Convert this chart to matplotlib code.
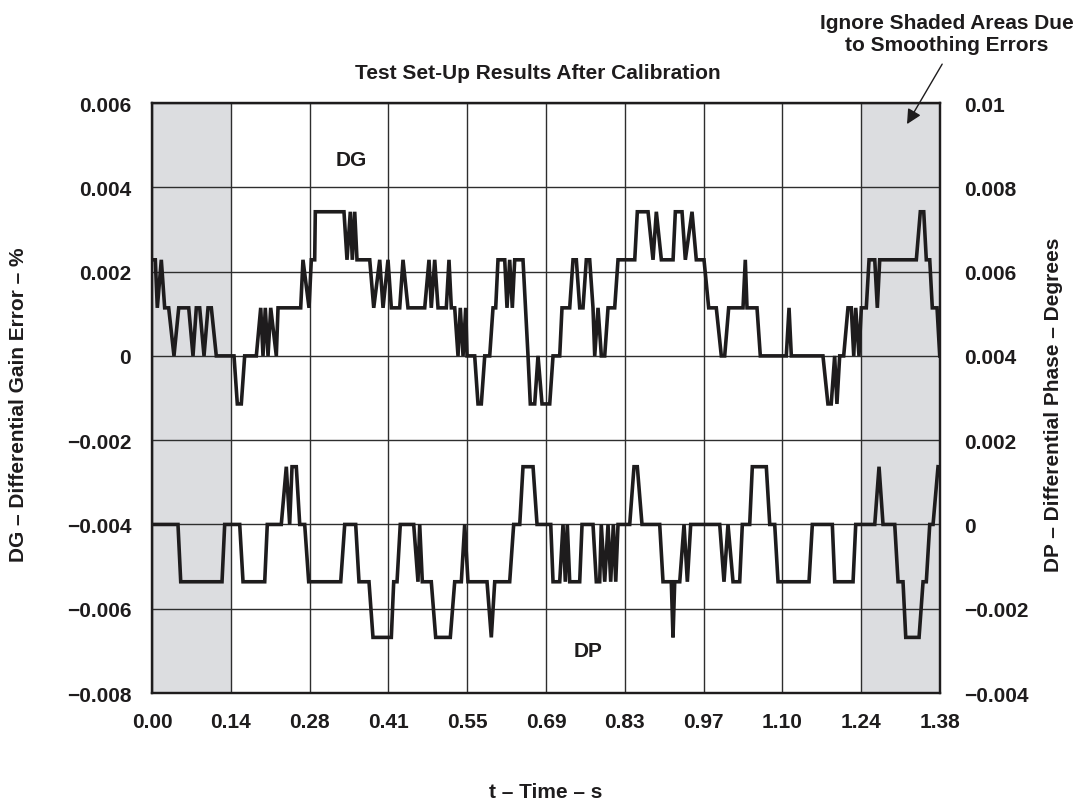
import matplotlib
matplotlib.use("Agg")
import matplotlib.pyplot as plt

plt.rcParams['font.family'] = ['Liberation Sans', 'DejaVu Sans']
plt.rcParams['font.weight'] = 'bold'

INK = '#1e1c1d'
FS = 15

# sample times (s) and differential gain (%)
dg_t = [0.000, 0.0058, 0.0093, 0.0163, 0.0222, 0.0292, 0.0385, 0.0468, 0.0643,
        0.0718, 0.0776, 0.0835, 0.0911, 0.0981, 0.1039, 0.1126, 0.1436, 0.1494,
        0.1564, 0.1623, 0.1827, 0.1904, 0.1944, 0.1984, 0.2032, 0.2079, 0.2177,
        0.2207, 0.2604, 0.2644, 0.2750, 0.2790, 0.2849, 0.2860, 0.3362, 0.3415,
        0.3473, 0.3508, 0.3550, 0.3590, 0.3813, 0.3883, 0.3988, 0.4046, 0.4133,
        0.4191, 0.4338, 0.4396, 0.4483, 0.4776, 0.4851, 0.4891, 0.4951, 0.5009,
        0.5154, 0.5201, 0.5242, 0.5301, 0.5359, 0.5399, 0.5447, 0.5494, 0.5517,
        0.5651, 0.5709, 0.5767, 0.5827, 0.5914, 0.5972, 0.6019, 0.6059, 0.6177,
        0.6217, 0.6264, 0.6310, 0.6352, 0.6497, 0.6585, 0.6625, 0.6702, 0.6760,
        0.6830, 0.6965, 0.7023, 0.7140, 0.7180, 0.7315, 0.7373, 0.7431, 0.7490,
        0.7548, 0.7606, 0.7665, 0.7723, 0.7753, 0.7811, 0.7869, 0.7928, 0.7986,
        0.8103, 0.8161, 0.8454, 0.8499, 0.8687, 0.8774, 0.8832, 0.8920, 0.9125,
        0.9165, 0.9282, 0.9340, 0.9457, 0.9532, 0.9667, 0.9749, 0.9882, 0.9970,
        1.0029, 1.0099, 1.0350, 1.0390, 1.0420, 1.0595, 1.0653, 1.1108, 1.1156,
        1.1196, 1.1750, 1.1837, 1.1895, 1.1955, 1.1995, 1.2043, 1.2113, 1.2188,
        1.2246, 1.2289, 1.2324, 1.2381, 1.2422, 1.2509, 1.2557, 1.2657, 1.2702,
        1.2744, 1.3385, 1.3455, 1.3515, 1.3560, 1.3620, 1.3665, 1.3748, 1.3795]
dg_val = [0.00228, 0.00228, 0.00114, 0.00228, 0.00114, 0.00114, 0.0, 0.00114, 0.00114,
          0.0, 0.00114, 0.00114, 0.0, 0.00114, 0.00114, 0.0, 0.0, -0.00114,
          -0.00114, 0.0, 0.0, 0.00114, 0.0, 0.00114, 0.0, 0.00114, 0.0,
          0.00114, 0.00114, 0.00228, 0.00114, 0.00228, 0.00228, 0.00342, 0.00342, 0.00228,
          0.00342, 0.00228, 0.00342, 0.00228, 0.00228, 0.00114, 0.00228, 0.00114, 0.00228,
          0.00114, 0.00114, 0.00228, 0.00114, 0.00114, 0.00228, 0.00114, 0.00228, 0.00114,
          0.00114, 0.00228, 0.00114, 0.00114, 0.0, 0.00114, 0.0, 0.00114, 0.0,
          0.0, -0.00114, -0.00114, 0.0, 0.0, 0.00114, 0.00114, 0.00228, 0.00228,
          0.00114, 0.00228, 0.00114, 0.00228, 0.00228, 0.0, -0.00114, -0.00114, 0.0,
          -0.00114, -0.00114, 0.0, 0.0, 0.00114, 0.00114, 0.00228, 0.00228, 0.00114,
          0.00114, 0.00228, 0.00228, 0.00114, 0.0, 0.00114, 0.0, 0.0, 0.00114,
          0.00114, 0.00228, 0.00228, 0.00342, 0.00342, 0.00228, 0.00342, 0.00228, 0.00228,
          0.00342, 0.00342, 0.00228, 0.00342, 0.00228, 0.00228, 0.00114, 0.00114, 0.0,
          0.0, 0.00114, 0.00114, 0.00228, 0.00114, 0.00114, 0.0, 0.0, 0.00114,
          0.0, 0.0, -0.00114, -0.00114, 0.0, -0.00114, 0.0, 0.0, 0.00114,
          0.00114, 0.0, 0.00114, 0.0, 0.00114, 0.00114, 0.00228, 0.00228, 0.00114,
          0.00228, 0.00228, 0.00342, 0.00342, 0.00228, 0.00228, 0.00114, 0.00114, 0.0]

# sample times (s) and differential phase (degrees)
dp_t = [0.000, 0.0455, 0.0503, 0.1226, 0.1273, 0.1536, 0.1594, 0.1974, 0.2019,
        0.2264, 0.2352, 0.2411, 0.2452, 0.2527, 0.2587, 0.2674, 0.2744, 0.3305,
        0.3375, 0.3567, 0.3625, 0.3800, 0.3870, 0.4191, 0.4233, 0.4291, 0.4348,
        0.4583, 0.4658, 0.4688, 0.4734, 0.4891, 0.4968, 0.5224, 0.5301, 0.5417,
        0.5476, 0.5534, 0.5867, 0.5942, 0.6002, 0.6264, 0.6334, 0.6440, 0.6497,
        0.6673, 0.6743, 0.6983, 0.7023, 0.7140, 0.7198, 0.7238, 0.7273, 0.7315,
        0.7490, 0.7531, 0.7723, 0.7781, 0.7840, 0.7868, 0.7928, 0.7986, 0.8033,
        0.8079, 0.8121, 0.8161, 0.8366, 0.8441, 0.8499, 0.8581, 0.8891, 0.8949,
        0.9094, 0.9124, 0.9154, 0.9242, 0.9317, 0.9375, 0.9434, 0.9942, 1.0017,
        1.0087, 1.0175, 1.0292, 1.0338, 1.0467, 1.0513, 1.0758, 1.0818, 1.0905,
        1.0963, 1.1506, 1.1564, 1.1914, 1.1956, 1.2277, 1.2324, 1.2657, 1.2732,
        1.2802, 1.3007, 1.3065, 1.3152, 1.3200, 1.3433, 1.3503, 1.3560, 1.3620,
        1.3678, 1.3765]
dp_val = [0.0, 0.0, -0.00136, -0.00136, 0.0, 0.0, -0.00136, -0.00136, 0.0,
          0.0, 0.00137, 0.0, 0.00137, 0.00137, 0.0, 0.0, -0.00136, -0.00136,
          0.0, 0.0, -0.00136, -0.00136, -0.00268, -0.00268, -0.00136, -0.00136, 0.0,
          0.0, -0.00136, 0.0, -0.00136, -0.00136, -0.00268, -0.00268, -0.00136, -0.00136,
          0.0, -0.00136, -0.00136, -0.00268, -0.00136, -0.00136, 0.0, 0.0, 0.00137,
          0.00137, 0.0, 0.0, -0.00136, -0.00136, 0.0, -0.00136, 0.0, -0.00136,
          -0.00136, 0.0, 0.0, -0.00136, -0.00136, 0.0, -0.00136, 0.0, -0.00136,
          0.0, -0.00136, 0.0, 0.0, 0.00137, 0.00137, 0.0, 0.0, -0.00136,
          -0.00136, -0.00268, -0.00136, -0.00136, 0.0, -0.00136, 0.0, 0.0, -0.00136,
          0.0, -0.00136, -0.00136, 0.0, 0.0, 0.00137, 0.00137, 0.0, 0.0,
          -0.00136, -0.00136, 0.0, 0.0, -0.00136, -0.00136, 0.0, 0.0, 0.00137,
          0.0, 0.0, -0.00136, -0.00136, -0.00268, -0.00268, -0.00136, -0.00136, 0.0,
          0.0, 0.00137]

t_ticks = [0.0, 0.138, 0.276, 0.414, 0.552, 0.69, 0.828, 0.966, 1.104, 1.242, 1.38]
t_labels = ['0.00', '0.14', '0.28', '0.41', '0.55', '0.69', '0.83', '0.97',
            '1.10', '1.24', '1.38']
dg_ticks = [-0.008, -0.006, -0.004, -0.002, 0.0, 0.002, 0.004, 0.006]
dg_labels = ['\u22120.008', '\u22120.006', '\u22120.004', '\u22120.002', '0',
             '0.002', '0.004', '0.006']
dp_ticks = [-0.004, -0.002, 0.0, 0.002, 0.004, 0.006, 0.008, 0.01]
dp_labels = ['\u22120.004', '\u22120.002', '0', '0.002', '0.004', '0.006',
             '0.008', '0.01']
shaded = [(0.0, 0.138), (1.242, 1.38)]

fig = plt.figure(figsize=(10.78, 8.04), dpi=100)
ax = fig.add_axes([0.141, 0.1368, 0.731, 0.7338])
ax2 = ax.twinx()

for lo, hi in shaded:
    ax.axvspan(lo, hi, color='#dcdde0', lw=0, zorder=0)

ax.plot(dg_t, dg_val, color=INK, lw=2.6, solid_joinstyle='miter', zorder=3)
ax2.plot(dp_t, dp_val, color=INK, lw=2.6, solid_joinstyle='miter', zorder=3)

ax.set_xlim(0, 1.38)
ax.set_ylim(-0.008, 0.006)
ax2.set_ylim(-0.004, 0.01)
ax.set_xticks(t_ticks)
ax.set_xticklabels(t_labels)
ax.set_yticks(dg_ticks)
ax.set_yticklabels(dg_labels)
ax2.set_yticks(dp_ticks)
ax2.set_yticklabels(dp_labels)

ax.grid(True, color='#2e2e2e', lw=1.0, zorder=1)
ax.set_axisbelow(False)
ax.tick_params(axis='both', length=0, labelsize=FS, colors=INK)
ax.tick_params(axis='y', pad=15)
ax.tick_params(axis='x', pad=14)
ax2.tick_params(axis='y', length=0, labelsize=FS, colors=INK, pad=17)
for a in (ax, ax2):
    for sp in a.spines.values():
        sp.set_linewidth(1.6)
        sp.set_color(INK)
for lab in ax.get_xticklabels() + ax.get_yticklabels() + ax2.get_yticklabels():
    lab.set_fontweight('bold')

ax.text(0.3485, 0.00467, 'DG', ha='center', va='center', fontsize=FS,
        fontweight='bold', color=INK)
ax.text(0.7636, -0.0070, 'DP', ha='center', va='center', fontsize=FS,
        fontweight='bold', color=INK)

fig.text(0.499, 0.909, 'Test Set-Up Results After Calibration', ha='center',
         va='center', fontsize=FS, fontweight='bold', color=INK)
fig.text(0.878, 0.957, 'Ignore Shaded Areas Due\nto Smoothing Errors',
         ha='center', va='center', fontsize=FS, fontweight='bold', color=INK,
         linespacing=1.25)
ax.annotate('', xy=(1.3222, 0.0055), xycoords='data',
            xytext=(0.874, 0.919), textcoords='figure fraction',
            arrowprops=dict(arrowstyle='-|>', color=INK, lw=1.0,
                            mutation_scale=22, shrinkA=0, shrinkB=0))

fig.text(0.506, 0.014, 't \u2013 Time \u2013 s', ha='center', va='center',
         fontsize=FS, fontweight='bold', color=INK)
fig.text(0.017, 0.496, 'DG \u2013 Differential Gain Error \u2013 %', rotation=90,
         ha='center', va='center', fontsize=FS, fontweight='bold', color=INK)
fig.text(0.977, 0.497, 'DP \u2013 Differential Phase \u2013 Degrees', rotation=90,
         ha='center', va='center', fontsize=FS, fontweight='bold', color=INK)

fig.savefig('out.png', dpi=100)
